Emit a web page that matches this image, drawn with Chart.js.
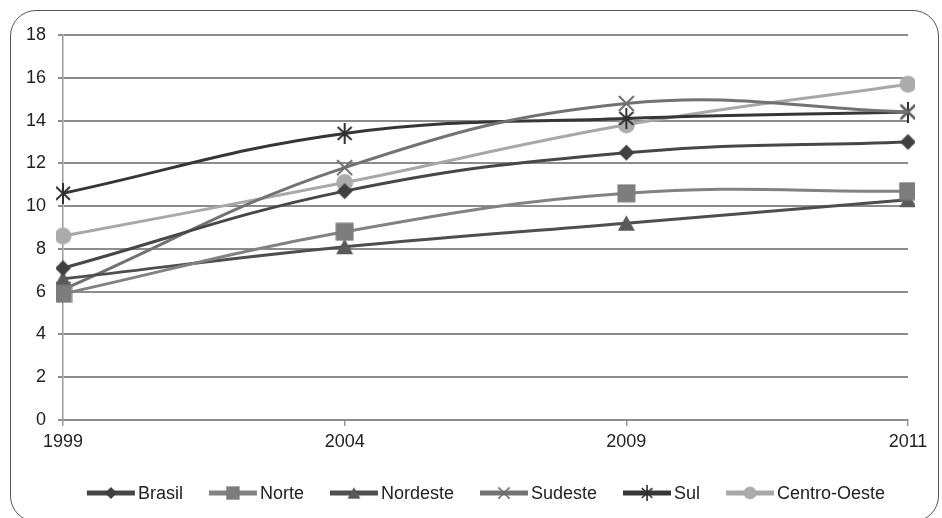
<!DOCTYPE html>
<html>
<head>
<meta charset="utf-8">
<script src="https://cdn.jsdelivr.net/npm/chart.js@4/dist/chart.umd.min.js"></script>
<style>
  html, body { margin: 0; padding: 0; background: #fff; overflow: hidden; }
  #wrap { position: relative; width: 942px; height: 518px; }
  #frame {
    position: absolute; left: 10px; top: 10px; width: 929px; height: 512px;
    box-sizing: border-box; border: 1.5px solid #555; border-radius: 26px;
  }
  #chart { position: absolute; left: 0; top: 0; }
</style>
</head>
<body>
<div id="wrap">
  <div id="frame"></div>
  <canvas id="chart" width="942" height="518"></canvas>
</div>
<script>
// years on the category axis
const years = ["1999", "2004", "2009", "2011"];

// series values
const brasil = [7.1, 10.7, 12.5, 13.0];
const norte = [5.9, 8.8, 10.6, 10.7];
const nordeste = [6.6, 8.1, 9.2, 10.3];
const sudeste = [6.1, 11.8, 14.8, 14.4];
const sul = [10.6, 13.4, 14.1, 14.4];
const centroOeste = [8.6, 11.1, 13.8, 15.7];

const FONT = "'Liberation Sans', Arial, sans-serif";

// small canvases used as point markers (and reused in the legend)
function makeMarker(shape, color) {
    const c = document.createElement("canvas");
    const w = shape === "star" ? 18 : 19;
    const h = shape === "star" ? 21 : 19;
    c.width = w;
    c.height = h;
    const g = c.getContext("2d");
    g.fillStyle = color;
    g.strokeStyle = color;
    g.lineWidth = 2;
    g.beginPath();
    if (shape === "diamond") {
        g.moveTo(9.5, 1.5); g.lineTo(17.5, 9.5); g.lineTo(9.5, 17.5); g.lineTo(1.5, 9.5);
        g.closePath(); g.fill();
    } else if (shape === "square") {
        g.rect(0.5, 0.5, 18, 18); g.fill();
    } else if (shape === "triangle") {
        g.moveTo(9.5, 1.5); g.lineTo(18, 17); g.lineTo(1, 17);
        g.closePath(); g.fill();
    } else if (shape === "cross") {
        g.moveTo(2, 2); g.lineTo(17, 17); g.moveTo(17, 2); g.lineTo(2, 17); g.stroke();
    } else if (shape === "star") {
        g.moveTo(2, 4); g.lineTo(16, 17); g.moveTo(16, 4); g.lineTo(2, 17);
        g.moveTo(9, 0); g.lineTo(9, 21); g.stroke();
    } else {
        g.arc(9.5, 9.5, 8.5, 0, Math.PI * 2); g.fill();
    }
    return c;
}

function series(label, data, color, markerColor, shape, width) {
    return {
        label,
        data,
        borderColor: color,
        backgroundColor: markerColor,
        borderWidth: width,
        pointStyle: makeMarker(shape, markerColor),
        tension: 0.4,
        fill: false,
    };
}

const datasets = [
    series("Brasil", brasil, "#474747", "#404040", "diamond", 3),
    series("Norte", norte, "#828282", "#7d7d7d", "square", 3),
    series("Nordeste", nordeste, "#4e4e4e", "#595959", "triangle", 3),
    series("Sudeste", sudeste, "#727272", "#6e6e6e", "cross", 3),
    series("Sul", sul, "#363636", "#303030", "star", 3),
    series("Centro-Oeste", centroOeste, "#a8a8a8", "#ababab", "circle", 3),
];

// Excel-like legend: short thick line with the marker in its middle
const lineLegend = {
    id: "lineLegend",
    afterDraw(chart) {
        const ctx = chart.ctx;
        const y = 493;
        const lineW = 48;
        const gap = 26;
        ctx.save();
        ctx.font = "18px " + FONT;
        ctx.textBaseline = "middle";
        const items = chart.data.datasets.map((ds) => ({
            ds,
            w: lineW + 3 + ctx.measureText(ds.label).width,
        }));
        const total = items.reduce((s, it) => s + it.w, 0) + gap * (items.length - 1);
        let x = 486 - total / 2;
        items.forEach(({ ds, w }) => {
            ctx.strokeStyle = ds.borderColor;
            ctx.lineWidth = 5;
            ctx.beginPath();
            ctx.moveTo(x, y);
            ctx.lineTo(x + lineW, y);
            ctx.stroke();
            const m = ds.pointStyle;
            const s = 0.75;
            ctx.drawImage(m, x + lineW / 2 - (m.width * s) / 2, y - (m.height * s) / 2, m.width * s, m.height * s);
            ctx.fillStyle = "#222";
            ctx.fillText(ds.label, x + lineW + 3, y + 1);
            x += w + gap;
        });
        ctx.restore();
    },
};

new Chart(document.getElementById("chart"), {
    type: "line",
    data: { labels: years, datasets },
    plugins: [lineLegend],
    options: {
        responsive: false,
        animation: false,
        layout: { padding: { top: 35, right: 34, left: 0, bottom: 0 } },
        plugins: {
            legend: { display: false },
            tooltip: { enabled: false },
            title: { display: false },
        },
        scales: {
            x: {
                offset: false,
                afterFit: (scale) => { scale.height = 98; },
                grid: {
                    display: true,
                    drawOnChartArea: false,
                    drawTicks: true,
                    tickLength: 6,
                    color: "#999",
                    lineWidth: 1.5,
                },
                border: { display: true, color: "#8c8c8c", width: 2 },
                ticks: {
                    color: "#222",
                    font: { family: FONT, size: 18 },
                    padding: 5,
                    maxRotation: 0,
                },
            },
            y: {
                min: 0,
                max: 18,
                afterFit: (scale) => { scale.width = 63; },
                grid: {
                    color: "#8c8c8c",
                    lineWidth: 2,
                    drawTicks: true,
                    tickLength: 5,
                },
                border: { display: true, color: "#9a9a9a", width: 1.5 },
                ticks: {
                    stepSize: 2,
                    color: "#222",
                    font: { family: FONT, size: 18 },
                    padding: 12,
                },
            },
        },
    },
});
</script>
</body>
</html>
